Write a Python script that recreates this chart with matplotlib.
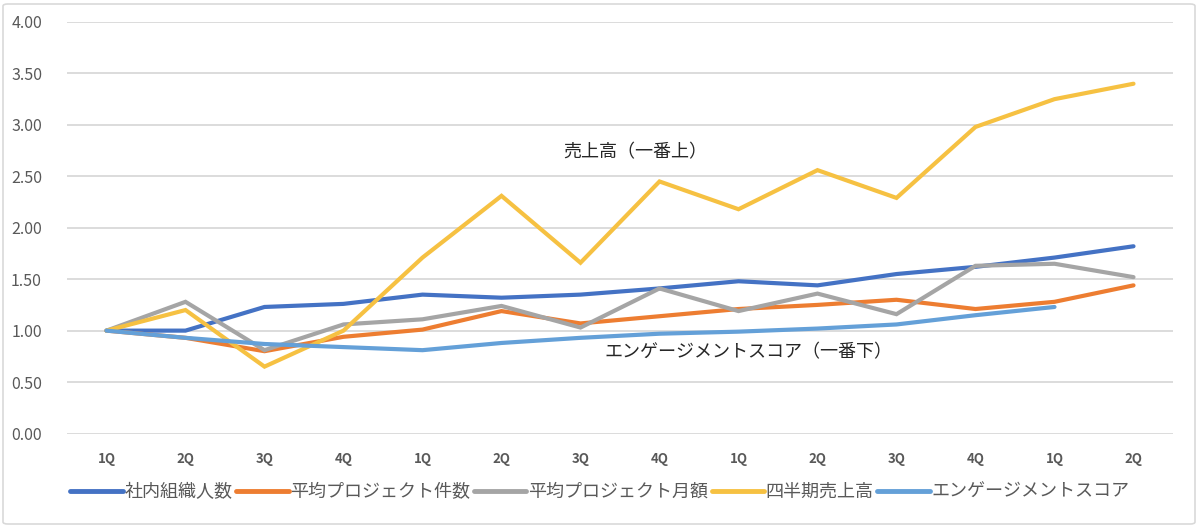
import matplotlib
matplotlib.use("Agg")
import matplotlib.pyplot as plt
from matplotlib.patches import FancyBboxPatch

plt.rcParams['font.family'] = ['Noto Sans CJK JP', 'DejaVu Sans']

quarters = ["1Q", "2Q", "3Q", "4Q", "1Q", "2Q", "3Q", "4Q", "1Q", "2Q", "3Q", "4Q", "1Q", "2Q"]

staff = [1.00, 1.00, 1.23, 1.26, 1.35, 1.32, 1.35, 1.41, 1.48, 1.44, 1.55, 1.62, 1.71, 1.82]
proj_count = [1.00, 0.93, 0.80, 0.94, 1.01, 1.19, 1.07, 1.14, 1.21, 1.25, 1.30, 1.21, 1.28, 1.44]
proj_amount = [1.00, 1.28, 0.81, 1.06, 1.11, 1.24, 1.03, 1.41, 1.19, 1.36, 1.16, 1.63, 1.65, 1.52]
sales = [1.00, 1.20, 0.65, 1.00, 1.71, 2.31, 1.66, 2.45, 2.18, 2.56, 2.29, 2.98, 3.25, 3.40]
engagement = [1.00, 0.93, 0.87, 0.84, 0.81, 0.88, 0.93, 0.97, 0.99, 1.02, 1.06, 1.15, 1.23]

series = [
    ("社内組織人数", staff, "#4472C4"),
    ("平均プロジェクト件数", proj_count, "#ED7D31"),
    ("平均プロジェクト月額", proj_amount, "#A5A5A5"),
    ("四半期売上高", sales, "#F6C142"),
    ("エンゲージメントスコア", engagement, "#64A0D8"),
]

fig = plt.figure(figsize=(12, 5.27), dpi=100)
ax = fig.add_axes([67/1200, 1-433.5/527, (1173-67)/1200, (433.5-22)/527])

x_all = list(range(len(quarters)))
for name, vals, col in series:
    ax.plot(x_all[:len(vals)], vals, color=col, lw=3.0, label=name,
            solid_capstyle='round', solid_joinstyle='miter')

ax.set_xlim(-0.5, len(quarters) - 0.5)
ax.set_ylim(0, 4)
ax.set_yticks([0, 0.5, 1, 1.5, 2, 2.5, 3, 3.5, 4])
ax.set_yticklabels([f"{v:.2f}" for v in ax.get_yticks()])
ax.set_xticks(x_all)
ax.set_xticklabels(quarters)
ax.grid(axis='y', color='#D9D9D9', lw=1.3)
ax.set_axisbelow(True)
for s in ax.spines.values():
    s.set_visible(False)
ax.tick_params(axis='both', length=0)
ax.tick_params(axis='y', pad=18, labelsize=11.5, labelcolor='#595959')
ax.tick_params(axis='x', pad=13, labelsize=9.5, labelcolor='#595959')
for lab in ax.get_xticklabels():
    lab.set_fontweight('bold')

ax.text(635/1200, 1-152/527, "売上高（一番上）", transform=fig.transFigure,
        ha='center', va='center', fontsize=13, color='#262626')
ax.text(748/1200, 1-352/527, "エンゲージメントスコア（一番下）", transform=fig.transFigure,
        ha='center', va='center', fontsize=13, color='#262626')

leg = fig.legend(loc='center', bbox_to_anchor=(600/1200, 1-492/527), ncol=5,
                 frameon=False, fontsize=13, handlelength=2.9, handletextpad=0.1,
                 columnspacing=0.2, borderaxespad=0)
for t in leg.get_texts():
    t.set_color('#595959')
for h in leg.legend_handles:
    h.set_linewidth(3.5)

border = FancyBboxPatch((3/1200, 3/527), 1192/1200, 520/527,
                        boxstyle="round,pad=0,rounding_size=0.004",
                        transform=fig.transFigure, fill=False,
                        edgecolor='#D9D9D9', lw=1.2)
fig.patches.append(border)

fig.savefig("out.png", dpi=100)
